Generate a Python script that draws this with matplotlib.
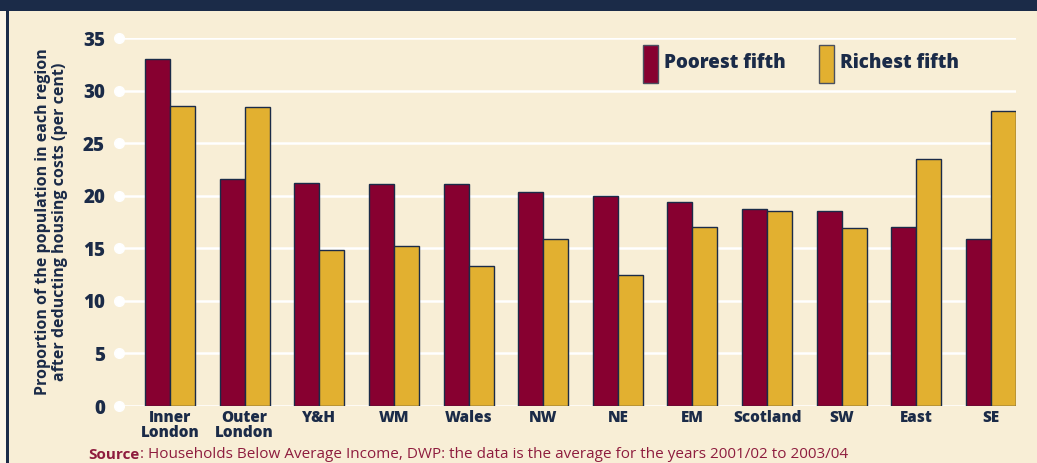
import matplotlib
matplotlib.use("Agg")
import matplotlib.pyplot as plt
from matplotlib.patches import Rectangle
import numpy as np

# Data
regions = ["Inner\nLondon", "Outer\nLondon", "Y&H", "WM", "Wales", "NW", "NE",
           "EM", "Scotland", "SW", "East", "SE"]
poorest = [33.0, 21.6, 21.2, 21.1, 21.1, 20.4, 20.0, 19.4, 18.7, 18.5, 17.0, 15.9]
richest = [28.5, 28.45, 14.8, 15.2, 13.3, 15.9, 12.5, 17.0, 18.55, 16.9, 23.5, 28.1]
y_ticks = [0, 5, 10, 15, 20, 25, 30, 35]

NAVY = "#1B2B48"
CREAM = "#F8EED6"
POOR = "#870030"
RICH = "#E2B030"
SOURCE_RED = "#8E1C3E"

plt.rcParams["font.family"] = ["Open Sans", "DejaVu Sans"]

W, H = 1037, 463
fig = plt.figure(figsize=(W / 100, H / 100), dpi=100)
fig.patch.set_facecolor(CREAM)

# frame pieces: navy band on top, navy rule down the left side
fig.patches.append(Rectangle((0, 0), 6 / W, 1, transform=fig.transFigure,
                             facecolor="#FBF5E8", edgecolor="none", zorder=0))
fig.patches.append(Rectangle((6 / W, 0), 3 / W, 1, transform=fig.transFigure,
                             facecolor=NAVY, edgecolor="none", zorder=1))
fig.patches.append(Rectangle((0, 1 - 11 / H), 1, 11 / H, transform=fig.transFigure,
                             facecolor=NAVY, edgecolor="none", zorder=1))

ax = fig.add_axes([119 / W, 1 - 406 / H, (1016 - 119) / W, (406 - 38) / H])
ax.set_facecolor(CREAM)

x = np.arange(len(regions))
bw = 0.335
ax.bar(x - bw / 2, poorest, bw, color=POOR, edgecolor=NAVY, linewidth=1.0, zorder=3)
ax.bar(x + bw / 2, richest, bw, color=RICH, edgecolor=NAVY, linewidth=1.0, zorder=3)

ax.set_xlim(-0.684, 11.335)
ax.set_ylim(0, 35)

for s in ax.spines.values():
    s.set_visible(False)

for t in y_ticks:
    ax.axhline(t, color="white", linewidth=1.8, zorder=1)
ax.plot(np.full(len(y_ticks), -0.684), y_ticks, "o", color="white", markersize=7,
        clip_on=False, zorder=4)

ax.set_yticks(y_ticks)
ax.set_yticklabels([str(t) for t in y_ticks], fontsize=13.5, fontweight=800, color=NAVY)
ax.tick_params(axis="y", length=0, pad=10)

ax.set_xticks(x)
ax.set_xticklabels(regions, fontsize=11, fontweight=800, color=NAVY, linespacing=0.9)
ax.tick_params(axis="x", length=0, pad=3)

ax.set_ylabel("Proportion of the population in each region\nafter deducting housing costs (per cent)",
              fontsize=11.5, fontweight="bold", color=NAVY, linespacing=1.05)
ax.yaxis.set_label_coords(-0.057, 0.5)

# legend drawn by hand
for x0, label, col in [(643, "Poorest fifth", POOR), (819, "Richest fifth", RICH)]:
    fig.patches.append(Rectangle((x0 / W, 1 - 83 / H), 15 / W, 38 / H,
                                 transform=fig.transFigure, facecolor=col,
                                 edgecolor="#4A5060", linewidth=1.0, zorder=5))
    fig.text((x0 + 21) / W, 1 - 63 / H, label, fontsize=13.5, fontweight=800,
             color=NAVY, va="center", ha="left")

fig.text(88 / W, 1 - 455 / H, "Source", fontsize=11, fontweight="bold",
         color=SOURCE_RED, va="center", ha="left")
fig.text(140 / W, 1 - 455 / H,
         ": Households Below Average Income, DWP: the data is the average for the years 2001/02 to 2003/04",
         fontsize=11, color=SOURCE_RED, va="center", ha="left")

fig.savefig("out.png", dpi=100, facecolor=CREAM)
